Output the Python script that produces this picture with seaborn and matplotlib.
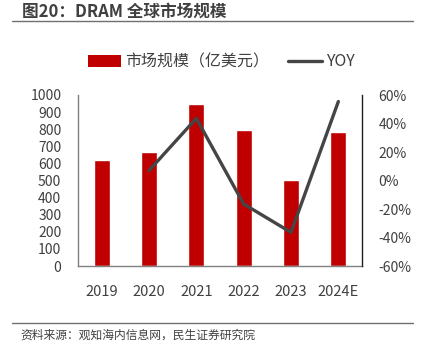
import matplotlib
matplotlib.use("Agg")
import matplotlib.pyplot as plt
import seaborn as sns
import pandas as pd
from matplotlib.patches import Patch
from matplotlib.lines import Line2D

years = ["2019", "2020", "2021", "2022", "2023", "2024E"]
market_size = [620, 665, 950, 795, 505, 785]          # 亿美元
yoy = [None, 7.0, 43.6, -16.5, -36.4, 55.4]            # %

sns.set_theme(style="white")
plt.rcParams["font.family"] = ["Noto Sans CJK SC", "DejaVu Sans"]

BAR = "#C00000"
LINE = "#454545"
TXT = "#404040"

df = pd.DataFrame({"year": years, "size": market_size, "yoy": yoy})

fig = plt.figure(figsize=(4.21, 3.49), dpi=100)
ax = fig.add_axes([78 / 421, 1 - 266 / 349, 284 / 421, 171 / 349])

sns.barplot(data=df, x="year", y="size", color=BAR, width=0.34,
            saturation=1, ax=ax)
ax.set_xlim(-0.5, 5.5)
ax.set_ylim(0, 1000)
ax.set_yticks(range(0, 1001, 100))
ax.set_xlabel("")
ax.set_ylabel("")
ax.tick_params(axis="both", length=0, colors=TXT, labelsize=10)
ax.tick_params(axis="x", pad=14, labelsize=10.5)
ax.tick_params(axis="y", pad=12)
for s in ["top", "right"]:
    ax.spines[s].set_visible(False)
for s in ["left", "bottom"]:
    ax.spines[s].set_color("#808080")
    ax.spines[s].set_linewidth(1.0)

ax2 = ax.twinx()
d2 = df.dropna()
sns.lineplot(x=[years.index(y) for y in d2["year"]], y=d2["yoy"], color=LINE,
             linewidth=2.4, ax=ax2)
ax2.set_ylim(-60, 60)
ax2.set_yticks(range(-60, 61, 20))
ax2.set_yticklabels([f"{v}%" for v in range(-60, 61, 20)])
ax2.set_ylabel("")
ax2.tick_params(axis="y", length=0, colors=TXT, labelsize=10, pad=12)
for s in ["top", "left", "bottom"]:
    ax2.spines[s].set_visible(False)
ax2.spines["right"].set_color("#202020")
ax2.spines["right"].set_linewidth(1.0)

# legend
handles = [Patch(facecolor=BAR, edgecolor="none"),
           Line2D([0], [0], color=LINE, linewidth=2.4)]
fig.legend(handles, ["市场规模（亿美元）", "YOY"], loc="center",
           bbox_to_anchor=(221 / 421, 1 - 62 / 349), ncol=2, frameon=False,
           fontsize=11.5, handlelength=2.1, handleheight=0.75,
           columnspacing=1.2, handletextpad=0.25, labelcolor=TXT)

# title and source
fig.text(22 / 421, 1 - 12 / 349, "图20：DRAM 全球市场规模", fontsize=12,
         fontweight="bold", color=TXT, va="center", ha="left")
fig.add_artist(Line2D([12 / 421, 413 / 421], [1 - 21 / 349, 1 - 21 / 349],
                      color="#707070", linewidth=1.0))
fig.add_artist(Line2D([12 / 421, 413 / 421], [1 - 323 / 349, 1 - 323 / 349],
                      color="#707070", linewidth=1.0))
fig.text(20 / 421, 1 - 335 / 349, "资料来源：观知海内信息网，民生证券研究院",
         fontsize=8.5, color=TXT, va="center", ha="left")

fig.savefig("out.png", dpi=100)
